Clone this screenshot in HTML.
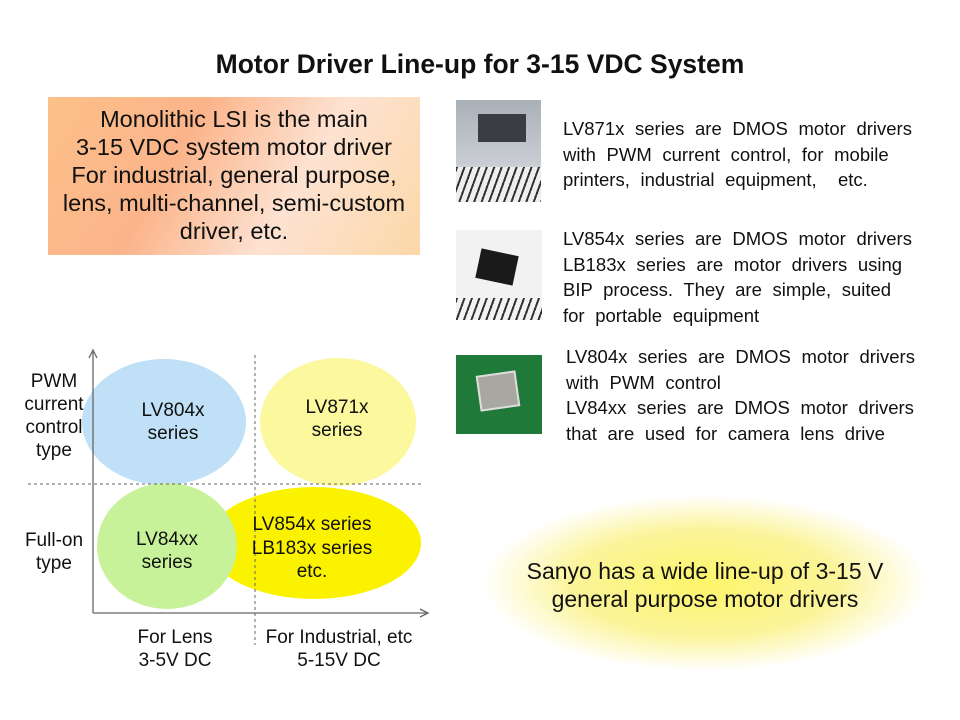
<!DOCTYPE html>
<html><head><meta charset="utf-8"><style>
body{margin:0;width:960px;height:720px;background:#fff;position:relative;overflow:hidden;font-family:"Liberation Sans",sans-serif;color:#111}
.a{position:absolute}
.t{font-size:18.5px;line-height:25.5px;white-space:nowrap;word-spacing:5.5px}
</style></head><body>
<div class="a" style="left:0;width:960px;top:49px;text-align:center;font-weight:bold;font-size:26.5px">Motor Driver Line-up for 3-15 VDC System</div>
<div class="a" style="left:48px;top:97px;width:372px;height:158px;background:linear-gradient(120deg,#fcc089 0%,#fbb48a 35%,#fde2d2 65%,#fcd8a8 100%)"></div>
<div class="a" style="left:38px;top:105px;width:392px;text-align:center;font-size:23.5px;line-height:28px;white-space:nowrap">Monolithic LSI is the main<br>3-15 VDC system motor driver<br>For industrial, general purpose,<br>lens, multi-channel, semi-custom<br>driver, etc.</div>

<div class="a" style="left:456px;top:100px;width:85px;height:102px;background:linear-gradient(180deg,#aab0b8,#c8ccd2 60%,#e8e8e8)"><div style="position:absolute;left:22px;top:14px;width:48px;height:28px;background:#3a3d44"></div><div style="position:absolute;left:0;bottom:0;width:85px;height:35px;background:repeating-linear-gradient(110deg,#333 0 2px,#eee 2px 7px)"></div></div>
<div class="a" style="left:456px;top:230px;width:86px;height:90px;background:#f2f2f2"><div style="position:absolute;left:22px;top:22px;width:38px;height:30px;background:#1a1a1a;transform:rotate(12deg)"></div><div style="position:absolute;left:0;bottom:0;width:86px;height:22px;background:repeating-linear-gradient(110deg,#333 0 2px,#f2f2f2 2px 7px)"></div></div>
<div class="a" style="left:456px;top:355px;width:86px;height:79px;background:#1f7a3a"><div style="position:absolute;left:22px;top:18px;width:36px;height:32px;background:#a8a8a0;border:2px solid #ddd;transform:rotate(-8deg)"></div></div>

<div class="a t" style="left:563px;top:116px">LV871x series are DMOS motor drivers<br>with PWM current control, for mobile<br>printers, industrial equipment,&nbsp; etc.</div>
<div class="a t" style="left:563px;top:226px">LV854x series are DMOS motor drivers<br>LB183x series are motor drivers using<br>BIP process. They are simple, suited<br>for portable equipment</div>
<div class="a t" style="left:566px;top:344px">LV804x series are DMOS motor drivers<br>with PWM control<br>LV84xx series are DMOS motor drivers<br>that are used for camera lens drive</div>

<svg class="a" style="left:0;top:0" width="960" height="720">
<defs><radialGradient id="g" cx="50%" cy="50%" r="50%"><stop offset="0" stop-color="#fdf56a"/><stop offset="0.6" stop-color="#fbf49a"/><stop offset="1" stop-color="#fff" stop-opacity="1"/></radialGradient></defs>
<ellipse cx="705" cy="583" rx="222" ry="88" fill="url(#g)"/>
<ellipse cx="164" cy="422" rx="82" ry="63" fill="#bfe0f6"/>
<ellipse cx="338" cy="422" rx="78" ry="64" fill="#fbf89e"/>
<ellipse cx="314" cy="543" rx="107" ry="56" fill="#fbf200"/>
<ellipse cx="167" cy="546" rx="70" ry="63" fill="#c8f29a"/>
<line x1="93" y1="613" x2="93" y2="352" stroke="#666" stroke-width="1.3"/>
<polyline points="89,358 93,350 97,358" fill="none" stroke="#666" stroke-width="1.3"/>
<line x1="93" y1="613" x2="426" y2="613" stroke="#666" stroke-width="1.3"/>
<polyline points="420,609 428,613 420,617" fill="none" stroke="#666" stroke-width="1.3"/>
<line x1="255" y1="355" x2="255" y2="645" stroke="#666" stroke-dasharray="3,3"/>
<line x1="28" y1="484" x2="422" y2="484" stroke="#666" stroke-dasharray="3,3"/>
<g font-family="Liberation Sans, sans-serif" font-size="19" text-anchor="middle" fill="#111">
<text x="54" y="387">PWM</text><text x="54" y="410">current</text><text x="54" y="433">control</text><text x="54" y="456">type</text>
<text x="54" y="546">Full-on</text><text x="54" y="569">type</text>
<text x="173" y="416">LV804x</text><text x="173" y="439">series</text>
<text x="337" y="413">LV871x</text><text x="337" y="436">series</text>
<text x="167" y="545">LV84xx</text><text x="167" y="568">series</text>
<text x="312" y="530">LV854x series</text><text x="312" y="554">LB183x series</text><text x="312" y="577">etc.</text>
<text x="175" y="643">For Lens</text><text x="175" y="666">3-5V DC</text>
<text x="339" y="643">For Industrial, etc</text><text x="339" y="666">5-15V DC</text>
</g>
<g font-family="Liberation Sans, sans-serif" font-size="23" text-anchor="middle" fill="#111">
<text x="705" y="579">Sanyo has a wide line-up of 3-15 V</text>
<text x="705" y="607">general purpose motor drivers</text>
</g>
</svg>
</body></html>
